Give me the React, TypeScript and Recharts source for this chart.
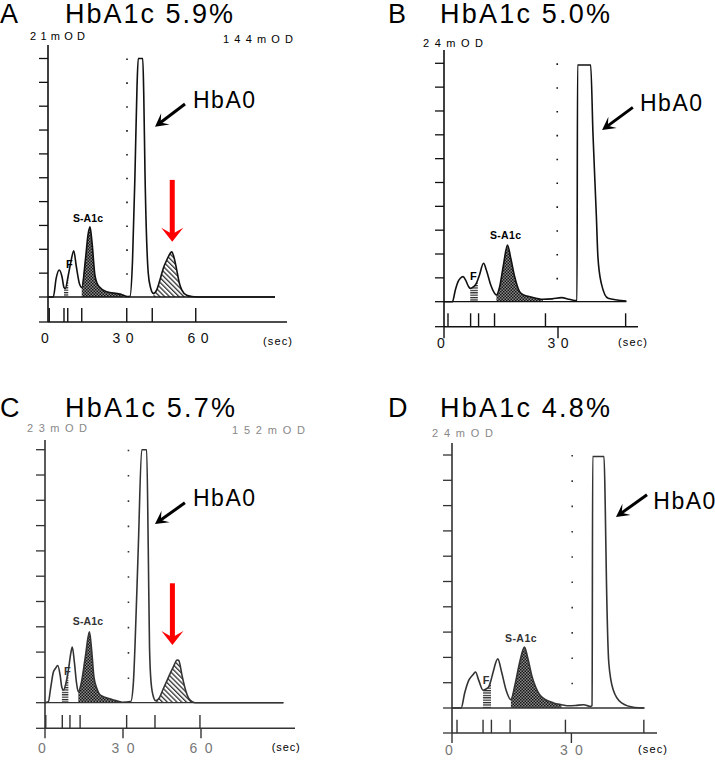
import React from 'react';
import { Area, ComposedChart, Line, ReferenceLine, XAxis, YAxis } from 'recharts';

// retention time (sec) and detector signal (in y-grid units, 10 = full scale)
const timeA = [0, 2.1, 3.3, 4.5, 5.6, 6.4, 6.9, 8.1, 9.2, 10.3, 11.3, 12.6, 13.5, 15.0, 16.0, 16.8, 17.6, 18.8, 20.3, 23.5, 28.8, 30.0, 31.7, 32.8, 33.8, 34.8, 35.6, 36.1, 37.9, 38.3, 38.8, 40.1, 41.0, 42.2, 43.5, 45.0, 46.1, 47.5, 49.0, 49.5, 50.3, 51.5, 52.5, 53.5, 55.5, 57.5, 60, 90.8];
const signalA = [0, 0, 0.8, 1.13, 0.85, 0.4, 0.35, 0.9, 1.5, 1.94, 1.3, 0.55, 0.4, 1.6, 2.6, 2.94, 2.3, 0.9, 0.45, 0.22, 0.12, 0.08, 0.02, 0.03, 1.5, 5.2, 8.8, 10, 10, 8.5, 5.2, 1.0, 0.4, 0.15, 0.3, 0.8, 1.2, 1.55, 1.85, 1.9, 1.7, 1.13, 0.6, 0.3, 0.07, 0.02, 0, 0];
const marksA = [0.5, 6.4, 7.9, 13.5, 31.5, 41.7, 59.1];

const timeB = [0, 2.2, 3.0, 3.7, 4.3, 5.0, 5.7, 6.4, 6.9, 7.7, 8.5, 8.9, 9.3, 10.4, 11.2, 12.3, 13.2, 13.8, 14.6, 15.6, 16.7, 17.6, 18.6, 19.9, 21.0, 22.6, 26.0, 28.5, 30.9, 33.0, 34.4, 35.0, 35.15, 38.6, 39.2, 40.1, 40.5, 41.4, 43.2, 46.7, 48.0];
const signalB = [0, 0, 0.5, 0.84, 0.98, 1.05, 0.9, 0.65, 0.56, 0.62, 0.77, 0.92, 1.1, 1.61, 1.3, 0.7, 0.38, 0.28, 0.6, 1.5, 2.38, 1.8, 1.05, 0.42, 0.28, 0.21, 0.1, 0.12, 0.17, 0.1, 0.05, 0.05, 9.93, 9.93, 7.06, 3.57, 1.89, 0.77, 0.14, 0.05, 0.03];
const marksB = [1.05, 7.0, 9.1, 13.3, 26.7, 47.8];

const timeC = [0, 1.3, 2.2, 3.2, 4.0, 4.9, 5.8, 6.5, 7.1, 8.0, 9.0, 10.0, 10.5, 11.3, 12.1, 12.8, 14.0, 15.5, 17.1, 18.0, 18.8, 20.0, 21.3, 25.8, 29.7, 33.0, 34.0, 34.6, 35.9, 37.2, 39.1, 39.7, 40.2, 40.8, 41.8, 42.5, 43.8, 45.5, 47.6, 49.5, 50.8, 51.4, 52.8, 54.2, 55.3, 57.9, 91.7];
const signalC = [0, 0.04, 0.6, 1.2, 1.35, 1.47, 1.1, 0.6, 0.5, 0.75, 1.3, 2.0, 2.2, 1.6, 0.8, 0.43, 0.8, 1.8, 2.8, 2.0, 1.03, 0.55, 0.3, 0.13, 0.02, 0.05, 0.8, 2.2, 6.2, 10, 10, 6.2, 2.2, 0.8, 0.2, 0.08, 0.17, 0.55, 1.03, 1.45, 1.69, 1.68, 1.03, 0.45, 0.17, 0, 0];
const marksC = [0.3, 6.65, 9.6, 13.5, 31.4, 42.3, 59.6];

const timeD = [0, 2.3, 3.2, 4.2, 5.2, 5.9, 6.7, 7.8, 8.5, 9.2, 9.8, 10.3, 11.5, 12.5, 13.6, 14.8, 15.8, 17.0, 18.2, 19.0, 20.1, 21.1, 22.2, 25.5, 27.5, 28.9, 31.0, 33.1, 34.7, 35.2, 35.35, 38.2, 38.5, 38.8, 39.4, 40.5, 42.6, 45.9, 48.2];
const signalD = [0, 0, 0.6, 1.09, 1.3, 1.42, 1.1, 0.7, 0.75, 0.83, 1.1, 1.4, 1.94, 1.4, 0.7, 0.33, 0.9, 1.8, 2.41, 2.0, 1.25, 0.8, 0.49, 0.2, 0.13, 0.09, 0.1, 0.13, 0.06, 0.1, 9.94, 9.94, 8.0, 5.07, 1.78, 0.72, 0.2, 0.02, 0];
const marksD = [1.26, 7.8, 9.9, 14.6, 28.5, 48.2];

// shaded fractions [start, end] in sec
const fRanges = { A: [6.4, 8.1], B: [6.9, 8.9], C: [6.5, 9.0], D: [7.8, 9.8] };
const a1cRanges = { A: [13.5, 30.0], B: [13.8, 26.0], C: [12.8, 29.7], D: [14.8, 27.5] };
const extraPeakRanges = { A: [42.2, 57.5], C: [42.5, 57.9] };

const ticksLong = [0, 30, 60];
const ticksShort = [0, 30];
const gridLevels = [0, 1, 2, 3, 4, 5, 6, 7, 8, 9, 10];

const inRange = (t: number, r?: number[]) => !!r && t >= r[0] - 1e-9 && t <= r[1] + 1e-9;

function buildRows(time: number[], signal: number[], f?: number[], a1c?: number[], peak?: number[]) {
  return time.map((t, i) => ({
    t,
    v: signal[i],
    f: inRange(t, f) ? signal[i] : null,
    a1c: inRange(t, a1c) ? signal[i] : null,
    peak: inRange(t, peak) ? signal[i] : null,
  }));
}

const arrowShape = (color: string, width: number, headLen: number, headHalf: number) => (p: any) => {
  const { x1, y1, x2, y2 } = p;
  if ([x1, y1, x2, y2].some((v) => typeof v !== 'number' || isNaN(v))) return <g />;
  const dx = x2 - x1;
  const dy = y2 - y1;
  const len = Math.hypot(dx, dy) || 1;
  const ux = dx / len;
  const uy = dy / len;
  const nx = -uy;
  const ny = ux;
  const bx = x2 - ux * headLen;
  const by = y2 - uy * headLen;
  const mx = x2 - ux * headLen * 0.55;
  const my = y2 - uy * headLen * 0.55;
  const pts = [
    [x2, y2],
    [bx + nx * headHalf, by + ny * headHalf],
    [mx, my],
    [bx - nx * headHalf, by - ny * headHalf],
  ]
    .map((q) => q.join(','))
    .join(' ');
  return (
    <g>
      <line x1={x1} y1={y1} x2={mx + ux} y2={my + uy} stroke={color} strokeWidth={width} />
      <polygon points={pts} fill={color} />
    </g>
  );
};

// y-axis keeps its tick lines but has no labels
const emptyTick = () => <g />;

type Cfg = {
  id: string;
  time: number[];
  signal: number[];
  marks: number[];
  xTicks: number[];
  dotted: number;
  baseEnd: number;
  // layout in page pixels
  axisX: number;
  plotTop: number;
  baseY: number;
  lowerY: number;
  plotRight: number;
  pxPerSec: number;
  pxPerTick: number;
  markTopY: number;
  xTickSize: number;
  xTickLines: boolean;
  labelBase: number;
  labelW: number;
  ink: string;
  labelInk: string;
  black: number[][];
  red?: number[][];
};

const panels: Cfg[] = [
  {
    id: 'A', time: timeA, signal: signalA, marks: marksA, xTicks: ticksLong, dotted: 31.6, baseEnd: 90.8,
    axisX: 48, plotTop: 45, baseY: 297, lowerY: 322, plotRight: 287, pxPerSec: 2.5, pxPerTick: 23.85,
    markTopY: 308, xTickSize: 10, xTickLines: false, labelBase: 343, labelW: 21, ink: '#111', labelInk: '#111',
    black: [[54.8, 8.09], [42.8, 7.14]], red: [[49.7, 4.91], [49.7, 2.32]],
  },
  {
    id: 'B', time: timeB, signal: signalB, marks: marksB, xTicks: ticksShort, dotted: 29.8, baseEnd: 48,
    axisX: 444.3, plotTop: 50, baseY: 301.7, lowerY: 326.7, plotRight: 638.3, pxPerSec: 3.8, pxPerTick: 23.84,
    markTopY: 313.3, xTickSize: 11.6, xTickLines: true, labelBase: 348.3, labelW: 21, ink: '#111', labelInk: '#111',
    black: [[49.7, 8.15], [41.6, 7.2]],
  },
  {
    id: 'C', time: timeC, signal: signalC, marks: marksC, xTicks: ticksLong, dotted: 32.1, baseEnd: 91.7,
    axisX: 45, plotTop: 440, baseY: 702.7, lowerY: 728.3, plotRight: 295, pxPerSec: 2.6, pxPerTick: 25.3,
    markTopY: 715, xTickSize: 10, xTickLines: true, labelBase: 753.3, labelW: 23, ink: '#333', labelInk: '#777',
    black: [[53.8, 7.9], [42.3, 7.06]], red: [[49.0, 4.72], [49.0, 2.28]],
  },
  {
    id: 'D', time: timeD, signal: signalD, marks: marksD, xTicks: ticksShort, dotted: 30.2, baseEnd: 48.4,
    axisX: 451.7, plotTop: 443.3, baseY: 708.3, lowerY: 733.3, plotRight: 656.7, pxPerSec: 3.98, pxPerTick: 25.3,
    markTopY: 720, xTickSize: 10, xTickLines: true, labelBase: 755, labelW: 23, ink: '#333', labelInk: '#777',
    black: [[49.0, 8.43], [41.2, 7.55]],
  },
];

const texts = [
  { t: 'A', x: 0, y: 22.7, size: 27 },
  { t: 'HbA1c 5.9%', x: 65, y: 22.7, size: 27, len: 168 },
  { t: 'B', x: 388, y: 22.7, size: 27 },
  { t: 'HbA1c 5.0%', x: 440, y: 22.7, size: 27, len: 170 },
  { t: 'C', x: 0, y: 416.7, size: 27 },
  { t: 'HbA1c 5.7%', x: 65, y: 416.7, size: 27, len: 170 },
  { t: 'D', x: 388, y: 416.7, size: 27 },
  { t: 'HbA1c 4.8%', x: 440, y: 416.7, size: 27, len: 170 },
  { t: '21mOD', x: 30, y: 39.5, size: 11, len: 55 },
  { t: '144mOD', x: 223, y: 42.5, size: 11, len: 70 },
  { t: '24mOD', x: 423, y: 46.5, size: 11, len: 60 },
  { t: '23mOD', x: 27, y: 431.5, size: 11, len: 60, color: '#888' },
  { t: '152mOD', x: 232, y: 434, size: 11, len: 73, color: '#888' },
  { t: '24mOD', x: 432, y: 436.5, size: 11, len: 61, color: '#888' },
  { t: 'S-A1c', x: 73, y: 222.3, size: 10.5, len: 30, bold: true },
  { t: 'S-A1c', x: 490, y: 239, size: 10.5, len: 31, bold: true },
  { t: 'S-A1c', x: 72.7, y: 625, size: 10.5, len: 30.5, bold: true, color: '#333' },
  { t: 'S-A1c', x: 505, y: 641.7, size: 10.5, len: 31.5, bold: true, color: '#333' },
  { t: 'F', x: 66, y: 268.3, size: 11, bold: true },
  { t: 'F', x: 470, y: 280, size: 11, bold: true },
  { t: 'F', x: 64, y: 675, size: 11, bold: true, color: '#333' },
  { t: 'F', x: 482.7, y: 684, size: 11, bold: true, color: '#333' },
  { t: 'HbA0', x: 193, y: 108.3, size: 23, len: 62 },
  { t: 'HbA0', x: 640, y: 111, size: 23, len: 62 },
  { t: 'HbA0', x: 193, y: 506, size: 23, len: 62 },
  { t: 'HbA0', x: 653.3, y: 509.3, size: 23, len: 62 },
  { t: '(sec)', x: 263, y: 345.4, size: 11, len: 29 },
  { t: '(sec)', x: 618, y: 345.5, size: 11, len: 29 },
  { t: '(sec)', x: 271.7, y: 751, size: 11, len: 28 },
  { t: '(sec)', x: 638, y: 752.5, size: 11, len: 29 },
];

const FONT = '"Liberation Sans", Arial, sans-serif';

function Panel({ c }: { c: Cfg }) {
  const rows = buildRows(
    c.time,
    c.signal,
    (fRanges as any)[c.id],
    (a1cRanges as any)[c.id],
    (extraPeakRanges as any)[c.id],
  );
  const xMax = (c.plotRight - c.axisX) / c.pxPerSec;
  const yMax = (c.baseY - c.plotTop) / c.pxPerTick;
  const yMin = -(c.lowerY - c.baseY) / c.pxPerTick;
  const markTop = -(c.markTopY - c.baseY) / c.pxPerTick;
  const width = c.plotRight - c.axisX + 45;
  const height = c.lowerY - c.plotTop + 5 + 35;
  const labelDy = c.labelBase - (c.lowerY + c.xTickSize + 2);
  const pid = `pat${c.id}`;

  const renderTick = (props: any) => {
    const { x, y, payload } = props;
    const s = String(payload.value);
    const two = s.length > 1;
    return (
      <text
        x={two ? x - c.labelW / 2 : x - 3}
        y={y}
        dy={labelDy}
        textAnchor={two ? 'start' : 'middle'}
        textLength={two ? c.labelW : undefined}
        lengthAdjust="spacing"
        fontSize={14}
        fill={c.labelInk}
        fontFamily={FONT}
      >
        {s}
      </text>
    );
  };

  return (
    <div style={{ position: 'absolute', left: c.axisX - 40, top: c.plotTop - 5 }}>
      <ComposedChart width={width} height={height} data={rows} margin={{ top: 5, right: 5, left: 30, bottom: 0 }}>
        <defs>
          <pattern id={`${pid}-dense`} width="3" height="3" patternUnits="userSpaceOnUse">
            <rect width="3" height="3" fill="#8a8a8a" />
            <rect width="1.5" height="1.5" fill="#151515" />
            <rect x="1.5" y="1.5" width="1.5" height="1.5" fill="#151515" />
          </pattern>
          <pattern id={`${pid}-horiz`} width="4" height="2.4" patternUnits="userSpaceOnUse">
            <rect width="4" height="2.4" fill="#fff" />
            <rect width="4" height="1.2" fill="#222" />
          </pattern>
          <pattern id={`${pid}-diag`} width="3.4" height="4" patternUnits="userSpaceOnUse" patternTransform="rotate(-45)">
            <rect width="3.4" height="4" fill="#fff" />
            <rect width="1.3" height="4" fill="#333" />
          </pattern>
        </defs>
        <XAxis
          type="number"
          dataKey="t"
          domain={[0, xMax]}
          ticks={c.xTicks}
          interval={0}
          allowDataOverflow
          height={35}
          tickSize={c.xTickSize}
          tickMargin={2}
          tickLine={c.xTickLines ? { stroke: c.ink, strokeWidth: 1.4 } : false}
          axisLine={{ stroke: c.ink, strokeWidth: 1.4 }}
          tick={renderTick}
        />
        <YAxis
          type="number"
          domain={[yMin, yMax]}
          ticks={[yMin, ...gridLevels]}
          interval={0}
          allowDataOverflow
          width={10}
          tickSize={9}
          tick={emptyTick}
          tickLine={{ stroke: c.ink, strokeWidth: 1.3 }}
          axisLine={{ stroke: c.ink, strokeWidth: 1.6 }}
        />
        <ReferenceLine
          segment={[{ x: 0, y: 0 }, { x: c.baseEnd, y: 0 }]}
          stroke={c.ink}
          strokeWidth={1.3}
        />
        <ReferenceLine
          segment={[{ x: c.dotted, y: 10 }, { x: c.dotted, y: 0 }]}
          stroke={c.ink}
          strokeWidth={1.6}
          strokeDasharray={`1.6 ${c.pxPerTick - 1.6}`}
        />
        {c.marks.map((m, i) => (
          <ReferenceLine
            key={`m${i}`}
            segment={[{ x: m, y: yMin }, { x: m, y: markTop }]}
            stroke={c.ink}
            strokeWidth={1.4}
          />
        ))}
        <Area type="monotone" dataKey="f" stroke="none" fill={`url(#${pid}-horiz)`} fillOpacity={1} baseValue={0} dot={false} activeDot={false} isAnimationActive={false} />
        <Area type="monotone" dataKey="a1c" stroke="none" fill={`url(#${pid}-dense)`} fillOpacity={1} baseValue={0} dot={false} activeDot={false} isAnimationActive={false} />
        <Area type="monotone" dataKey="peak" stroke="none" fill={`url(#${pid}-diag)`} fillOpacity={1} baseValue={0} dot={false} activeDot={false} isAnimationActive={false} />
        <Line type="monotone" dataKey="v" stroke={c.ink} strokeWidth={1.6} dot={false} activeDot={false} isAnimationActive={false} />
        <ReferenceLine
          segment={[{ x: c.black[0][0], y: c.black[0][1] }, { x: c.black[1][0], y: c.black[1][1] }]}
          shape={arrowShape('#000', 3, 13, 7)}
        />
        {c.red && (
          <ReferenceLine
            segment={[{ x: c.red[0][0], y: c.red[0][1] }, { x: c.red[1][0], y: c.red[1][1] }]}
            shape={arrowShape('#ff0000', 5, 14, 11)}
          />
        )}
      </ComposedChart>
    </div>
  );
}

export default function App() {
  return (
    <div style={{ position: 'absolute', left: 0, top: 0, width: 715, height: 765, background: '#fff', overflow: 'hidden' }}>
      {panels.map((c) => (
        <Panel key={c.id} c={c} />
      ))}
      <svg width={715} height={765} style={{ position: 'absolute', left: 0, top: 0, pointerEvents: 'none' }}>
        {texts.map((d, i) => (
          <text
            key={i}
            x={d.x}
            y={d.y}
            fontSize={d.size}
            fontFamily={FONT}
            fontWeight={(d as any).bold ? 700 : 400}
            fill={(d as any).color || '#000'}
            textLength={(d as any).len}
            lengthAdjust="spacing"
          >
            {d.t}
          </text>
        ))}
      </svg>
    </div>
  );
}
